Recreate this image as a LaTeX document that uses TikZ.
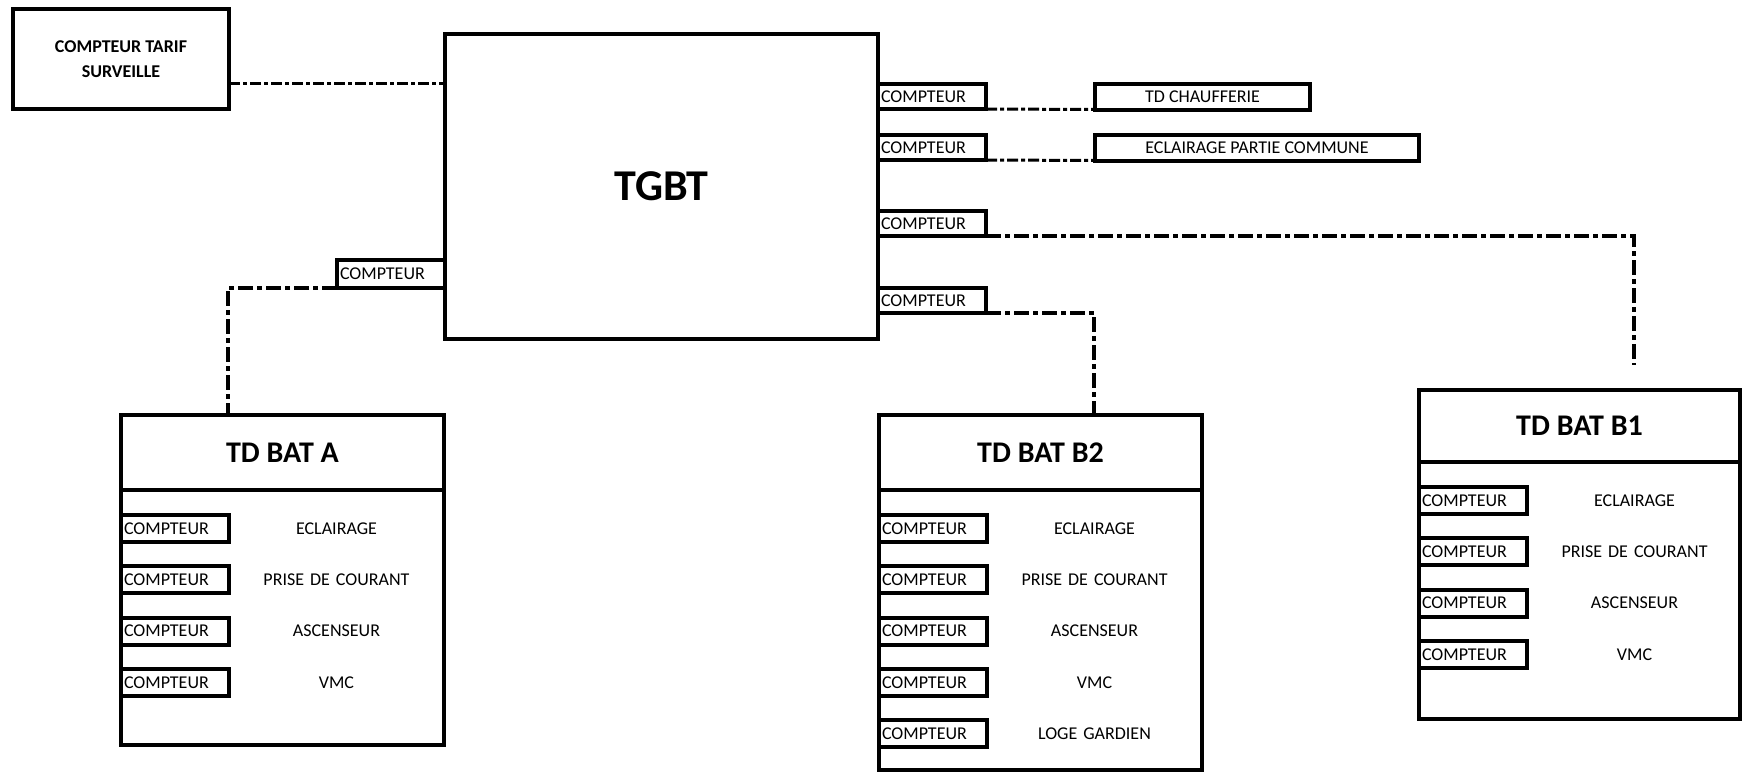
\documentclass[tikz,border=0pt]{standalone}
\usepackage{fontspec}
\setmainfont{Carlito}
\usetikzlibrary{positioning,calc}

\begin{document}
\begin{tikzpicture}[x=1pt, y=-1pt, every node/.style={outer sep=0pt},
  box/.style={rectangle, draw, line width=4pt, inner sep=0pt},
  cpt/.style={box, text width=102pt, inner xsep=3pt, minimum height=27pt, align=left, font=\fontsize{18}{20}\selectfont},
  lbl/.style={text width=215pt, inner sep=0pt, align=center, font=\fontsize{18}{20}\selectfont},
  hdr/.style={box, font=\fontsize{30}{34}\selectfont\bfseries},
  lnk/.style={line width=4pt, dash pattern=on 15pt off 4pt on 5pt off 4pt},
  lnkfin/.style={line width=3pt, dash pattern=on 11pt off 3pt on 4pt off 3pt}]
\fill[white] (0,0) rectangle (1742,772);
% tableau general
\node[box, minimum width=433pt, minimum height=305pt, font=\fontsize{44}{48}\selectfont\bfseries] (tgbt) at (661.5,186.5) {TGBT};
\node[box, minimum width=216pt, minimum height=100pt, align=center, font=\fontsize{18}{25}\selectfont\bfseries] (tarif) at (121,59) {COMPTEUR TARIF\\SURVEILLE};
\node[cpt, minimum height=28pt, anchor=south east] (cpA) at (tgbt.west |- 0,288) {COMPTEUR};
\node[cpt, minimum height=25pt, anchor=north west] (cp1) at ($(tgbt.north east)+(0,50)$) {COMPTEUR};
\node[cpt, minimum height=25pt, below=26pt of cp1] (cp2) {COMPTEUR};
\node[cpt, minimum height=25pt, below=51pt of cp2] (cp3) {COMPTEUR};
\node[cpt, minimum height=25pt, below=52pt of cp3] (cp4) {COMPTEUR};
\node[box, minimum width=215pt, minimum height=26pt, font=\fontsize{18}{20}\selectfont, right=109pt of cp1] (chauf) {TD CHAUFFERIE};
\node[box, minimum width=324pt, minimum height=26pt, font=\fontsize{18}{20}\selectfont, right=109pt of cp2] (ecl) {ECLAIRAGE PARTIE COMMUNE};
% TD BAT A
\node[hdr, minimum width=323pt, minimum height=75pt] (hA) at (282.5,452.5) {TD BAT A};
\node[box, minimum width=323pt, minimum height=255pt, below=0pt of hA] (bA) {};
\node[cpt, anchor=north west] (a1) at ($(bA.north west)+(0,25)$) {COMPTEUR};
\node[cpt, below=24.3pt of a1] (a2) {COMPTEUR};
\node[cpt, below=24.3pt of a2] (a3) {COMPTEUR};
\node[cpt, below=24.3pt of a3] (a4) {COMPTEUR};
\node[lbl, right=0pt of a1] {ECLAIRAGE};
\node[lbl, right=0pt of a2] {PRISE DE COURANT};
\node[lbl, right=0pt of a3] {ASCENSEUR};
\node[lbl, right=0pt of a4] {VMC};
% TD BAT B2
\node[hdr, minimum width=323pt, minimum height=75pt] (hB2) at (1040.5,452.5) {TD BAT B2};
\node[box, minimum width=323pt, minimum height=280pt, below=0pt of hB2] (bB2) {};
\node[cpt, anchor=north west] (m1) at ($(bB2.north west)+(0,25)$) {COMPTEUR};
\node[cpt, below=24.3pt of m1] (m2) {COMPTEUR};
\node[cpt, below=24.3pt of m2] (m3) {COMPTEUR};
\node[cpt, below=24.3pt of m3] (m4) {COMPTEUR};
\node[cpt, below=24.3pt of m4] (m5) {COMPTEUR};
\node[lbl, right=0pt of m1] {ECLAIRAGE};
\node[lbl, right=0pt of m2] {PRISE DE COURANT};
\node[lbl, right=0pt of m3] {ASCENSEUR};
\node[lbl, right=0pt of m4] {VMC};
\node[lbl, right=0pt of m5] {LOGE GARDIEN};
% TD BAT B1
\node[hdr, minimum width=321pt, minimum height=72pt] (hB1) at (1579.5,426) {TD BAT B1};
\node[box, minimum width=321pt, minimum height=257pt, below=0pt of hB1] (bB1) {};
\node[cpt, anchor=north west] (n1) at ($(bB1.north west)+(0,25)$) {COMPTEUR};
\node[cpt, below=24.3pt of n1] (n2) {COMPTEUR};
\node[cpt, below=24.3pt of n2] (n3) {COMPTEUR};
\node[cpt, below=24.3pt of n3] (n4) {COMPTEUR};
\node[lbl, right=0pt of n1] {ECLAIRAGE};
\node[lbl, right=0pt of n2] {PRISE DE COURANT};
\node[lbl, right=0pt of n3] {ASCENSEUR};
\node[lbl, right=0pt of n4] {VMC};
% liaisons
\coordinate (finB1) at (1634,365);
\draw[lnkfin] (tarif.east |- 0,83) -- (tgbt.west |- 0,83);
\draw[lnkfin] (cp1.south east) -- (chauf.south west);
\draw[lnkfin] (cp2.south east) -- (ecl.south west);
\draw[lnk] (cpA.south west) -| ($(hA.north west)+(107,0)$);
\draw[lnk] (cp3.south east) -| (finB1);
\draw[lnk] (cp4.south east) -| ($(hB2.north west)+(215,0)$);
\end{tikzpicture}
\end{document}
